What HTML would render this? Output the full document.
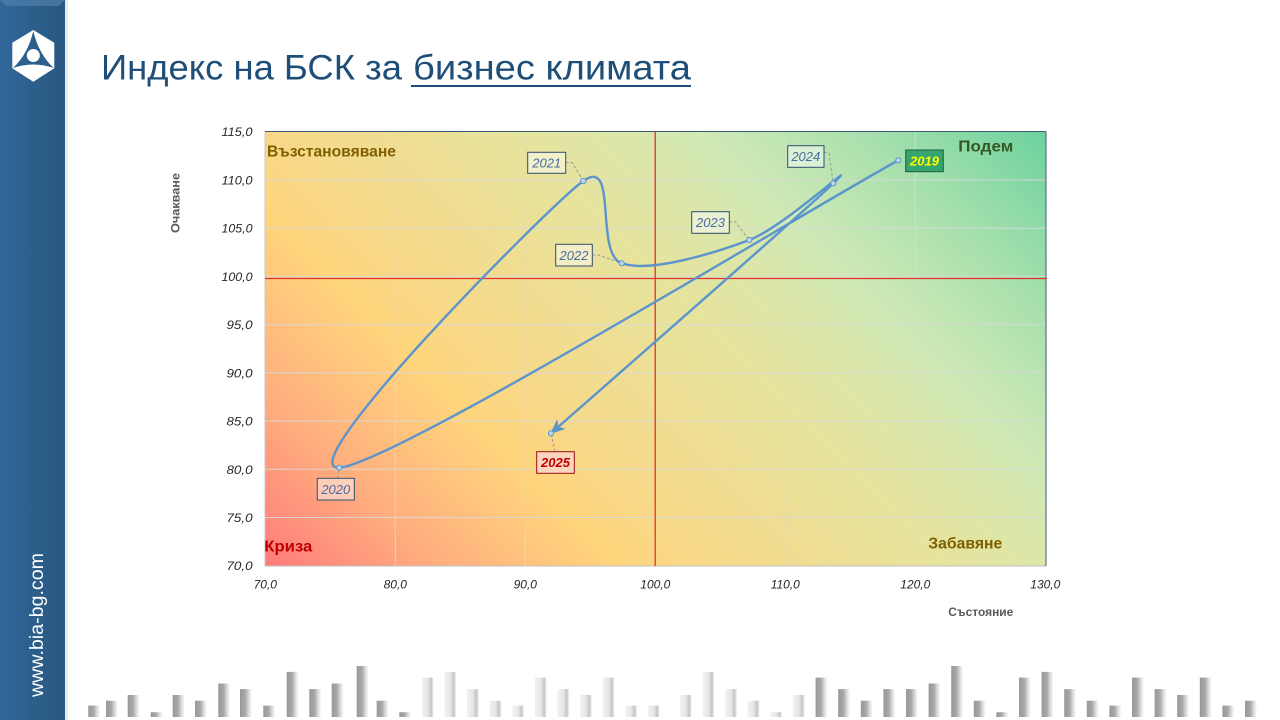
<!DOCTYPE html>
<html><head><meta charset="utf-8"><style>
html,body{margin:0;padding:0;background:#fff;width:1280px;height:720px;overflow:hidden}
svg{display:block}
</style></head><body>
<svg width="1280" height="720" viewBox="0 0 1280 720" font-family="'Liberation Sans','DejaVu Sans',sans-serif">
<defs>
<linearGradient id="bg" gradientUnits="userSpaceOnUse" x1="265" y1="566" x2="873" y2="-42">
<stop offset="0" stop-color="#ff7b7b"/>
<stop offset="0.14" stop-color="#ffad7e"/>
<stop offset="0.29" stop-color="#ffd57c"/>
<stop offset="0.37" stop-color="#f7d98a"/>
<stop offset="0.55" stop-color="#e7e39c"/>
<stop offset="0.64" stop-color="#dde6a8"/>
<stop offset="0.72" stop-color="#cfe9b6"/>
<stop offset="0.85" stop-color="#a7e0ad"/>
<stop offset="1" stop-color="#6cd29e"/>
</linearGradient>
<linearGradient id="side" x1="0" y1="0" x2="1" y2="0">
<stop offset="0" stop-color="#31679a"/>
<stop offset="0.5" stop-color="#2c5f8b"/>
<stop offset="1" stop-color="#295883"/>
</linearGradient>
<linearGradient id="gb" x1="0" y1="0" x2="1" y2="0">
<stop offset="0" stop-color="#989898"/>
<stop offset="0.45" stop-color="#a9a9a9"/>
<stop offset="0.7" stop-color="#d6d6d6"/>
<stop offset="1" stop-color="#ffffff"/>
</linearGradient>
<linearGradient id="wb" x1="0" y1="0" x2="1" y2="0">
<stop offset="0" stop-color="#f2f2f2"/>
<stop offset="0.5" stop-color="#e6e6e6"/>
<stop offset="0.78" stop-color="#c4c4c4"/>
<stop offset="1" stop-color="#ffffff"/>
</linearGradient>
</defs>

<!-- sidebar -->
<rect x="0" y="0" width="65" height="720" fill="url(#side)"/>
<polygon points="0,0 65,0 59,6 6,6" fill="#5a88b2" opacity="0.55"/>
<rect x="65" y="0" width="3" height="720" fill="#d8dde3" opacity="0.6"/>
<!-- logo -->
<polygon points="33.3,30 54.3,42.7 54.3,68.3 33.3,81.7 12.3,68.3 12.3,42.7" fill="#ffffff"/>
<path d="M33.3,31 Q28,54 13,68 Q33.3,61 53.7,68 Q38.6,54 33.3,31 Z" fill="#2c5f8b"/>
<circle cx="33.3" cy="55.5" r="6.5" fill="#ffffff"/>
<text transform="translate(43,625) rotate(-90)" text-anchor="middle" font-size="19" fill="#ffffff" textLength="144" lengthAdjust="spacingAndGlyphs">www.bia-bg.com</text>

<!-- title -->
<text x="101" y="79.5" font-size="35" fill="#1f4e79" textLength="301" lengthAdjust="spacingAndGlyphs">Индекс на БСК за</text>
<text x="413" y="79.5" font-size="35" fill="#1f4e79" textLength="278" lengthAdjust="spacingAndGlyphs">бизнес климата</text>
<line x1="411" y1="86" x2="691" y2="86" stroke="#1f4e79" stroke-width="2"/>

<!-- plot area -->
<rect x="265" y="131.5" width="781" height="434.5" fill="url(#bg)"/>
<g stroke="#d9d9d9" stroke-width="1" opacity="0.9">
<line x1="395.3" y1="131.5" x2="395.3" y2="566"/>
<line x1="525.3" y1="131.5" x2="525.3" y2="566"/>
<line x1="785.3" y1="131.5" x2="785.3" y2="566"/>
<line x1="915.3" y1="131.5" x2="915.3" y2="566"/>
<line x1="265" y1="180" x2="1046" y2="180"/>
<line x1="265" y1="228.2" x2="1046" y2="228.2"/>
<line x1="265" y1="276.4" x2="1046" y2="276.4"/>
<line x1="265" y1="324.6" x2="1046" y2="324.6"/>
<line x1="265" y1="372.8" x2="1046" y2="372.8"/>
<line x1="265" y1="421" x2="1046" y2="421"/>
<line x1="265" y1="469.3" x2="1046" y2="469.3"/>
<line x1="265" y1="517.5" x2="1046" y2="517.5"/>
</g>
<line x1="265" y1="131.5" x2="265" y2="566" stroke="#c8c8c8" stroke-width="1"/>
<line x1="265" y1="566" x2="1046" y2="566" stroke="#bfbfbf" stroke-width="1"/>
<line x1="265" y1="131.5" x2="1046" y2="131.5" stroke="#3e5c7a" stroke-width="1"/>
<line x1="1046" y1="131.5" x2="1046" y2="566" stroke="#3e5c7a" stroke-width="1"/>

<!-- red lines -->
<line x1="655.2" y1="131.5" x2="655.2" y2="566" stroke="#e2302a" stroke-width="1.3"/>
<line x1="265" y1="278.5" x2="1047" y2="278.5" stroke="#e2302a" stroke-width="1.3"/>

<!-- quadrant labels -->
<text x="267" y="156.5" font-size="15.5" font-weight="bold" fill="#7f6000" textLength="129" lengthAdjust="spacingAndGlyphs">Възстановяване</text>
<text x="958.3" y="151.7" font-size="15.5" font-weight="bold" fill="#385723" textLength="55" lengthAdjust="spacingAndGlyphs">Подем</text>
<text x="264.3" y="551.7" font-size="15.5" font-weight="bold" fill="#c00000" textLength="48" lengthAdjust="spacingAndGlyphs">Криза</text>
<text x="928.3" y="548.3" font-size="15.5" font-weight="bold" fill="#7f6000" textLength="74" lengthAdjust="spacingAndGlyphs">Забавяне</text>

<!-- y tick labels -->
<g font-size="12" font-style="italic" fill="#262626" text-anchor="end">
<text x="252.5" y="136.2" textLength="31" lengthAdjust="spacingAndGlyphs">115,0</text>
<text x="252.5" y="184.5" textLength="31" lengthAdjust="spacingAndGlyphs">110,0</text>
<text x="252.5" y="232.7" textLength="31" lengthAdjust="spacingAndGlyphs">105,0</text>
<text x="252.5" y="280.9" textLength="31" lengthAdjust="spacingAndGlyphs">100,0</text>
<text x="252.5" y="329.1" textLength="26" lengthAdjust="spacingAndGlyphs">95,0</text>
<text x="252.5" y="377.3" textLength="26" lengthAdjust="spacingAndGlyphs">90,0</text>
<text x="252.5" y="425.5" textLength="26" lengthAdjust="spacingAndGlyphs">85,0</text>
<text x="252.5" y="473.8" textLength="26" lengthAdjust="spacingAndGlyphs">80,0</text>
<text x="252.5" y="522" textLength="26" lengthAdjust="spacingAndGlyphs">75,0</text>
<text x="252.5" y="570.2" textLength="26" lengthAdjust="spacingAndGlyphs">70,0</text>
</g>
<!-- x tick labels -->
<g font-size="12" font-style="italic" fill="#262626" text-anchor="middle">
<text x="265.3" y="588.3">70,0</text>
<text x="395.3" y="588.3">80,0</text>
<text x="525.3" y="588.3">90,0</text>
<text x="655.3" y="588.3">100,0</text>
<text x="785.3" y="588.3">110,0</text>
<text x="915.3" y="588.3">120,0</text>
<text x="1045.3" y="588.3">130,0</text>
</g>
<!-- axis titles -->
<text transform="translate(179.5,203) rotate(-90)" text-anchor="middle" font-size="12" font-weight="bold" fill="#595959" textLength="60" lengthAdjust="spacingAndGlyphs">Очакване</text>
<text x="948.3" y="616" font-size="12" font-weight="bold" fill="#595959" textLength="65" lengthAdjust="spacingAndGlyphs">Състояние</text>

<!-- leader lines -->
<g fill="none" stroke="#9a9a9a" stroke-width="1" stroke-dasharray="3,2">
<polyline points="565.7,162.5 572,162.5 583.3,181"/>
<polyline points="592.3,255 598.5,255 621.7,263.3"/>
<polyline points="729.3,222 735,221.5 749.3,240"/>
<polyline points="824,152 829,153 833.3,183.3"/>
<polyline points="337.5,478.3 339.3,467.7"/>
<polyline points="555,451.7 551,433.3"/>
</g>

<!-- curve -->
<path d="M898.3,160.3 C805.1,211.5 391.8,464.25 339.3,467.7 C286.8,471.15 548,206.55 583.3,181 C618.6,155.45 594,253.5 621.7,263.3 C649.4,273.1 714,253.3 749.3,240 C784.6,226.7 866.4,151.1 833.3,183.3 C800.3,215.5 598.05,391.6 553,431.6" fill="none" stroke="#5b95cc" stroke-width="2.4" stroke-linejoin="round" stroke-linecap="round"/>
<polygon points="551,433.3 557.1,420.6 557.9,427.3 564.4,428.8" fill="#5b95cc" stroke="#5b95cc" stroke-width="1" stroke-linejoin="round"/>
<g fill="#bdd7ee" stroke="#5b95cc" stroke-width="1">
<circle cx="898.3" cy="160.3" r="2.6"/>
<circle cx="339.3" cy="467.7" r="2.6"/>
<circle cx="583.3" cy="181" r="2.6"/>
<circle cx="621.7" cy="263.3" r="2.6"/>
<circle cx="749.3" cy="240" r="2.6"/>
<circle cx="833.3" cy="183.3" r="2.6"/>
<circle cx="551" cy="433.3" r="2.6"/>
</g>

<!-- data label boxes -->
<g font-size="13" font-style="italic" text-anchor="middle">
<rect x="527.7" y="152.3" width="38" height="21" fill="#ffffff" fill-opacity="0.45" stroke="#2f4f6f"/>
<text x="546.7" y="167.6" fill="#4a6ca3">2021</text>
<rect x="555.7" y="244.3" width="36.6" height="21.7" fill="#ffffff" fill-opacity="0.45" stroke="#2f4f6f"/>
<text x="574" y="259.8" fill="#4a6ca3">2022</text>
<rect x="691.7" y="211.7" width="37.6" height="21.6" fill="#ffffff" fill-opacity="0.45" stroke="#2f4f6f"/>
<text x="710.5" y="227.2" fill="#4a6ca3">2023</text>
<rect x="787.7" y="145.7" width="36.3" height="21.6" fill="#ffffff" fill-opacity="0.45" stroke="#2f4f6f"/>
<text x="805.8" y="161.2" fill="#4a6ca3">2024</text>
<rect x="317.3" y="478.3" width="37" height="21.7" fill="#ffffff" fill-opacity="0.45" stroke="#2f4f6f"/>
<text x="335.8" y="493.8" fill="#4a6ca3">2020</text>
<rect x="905.7" y="150" width="37.6" height="21.7" fill="#36a46e" stroke="#1f5f3f"/>
<text x="924.5" y="165.5" fill="#ffff00" font-weight="bold">2019</text>
<rect x="536.7" y="451.7" width="37.6" height="21.6" fill="#fcd5c0" stroke="#9a1010"/>
<text x="555.5" y="467.2" fill="#c00000" font-weight="bold">2025</text>
</g>

<!-- decorative bars -->
<g>
<rect x="88.3" y="705.6" width="12" height="11.4" fill="url(#gb)"/>
<rect x="106" y="700.7" width="12" height="16.3" fill="url(#gb)"/>
<rect x="127.7" y="695" width="12" height="22" fill="url(#gb)"/>
<rect x="150.7" y="712.2" width="12" height="4.8" fill="url(#gb)"/>
<rect x="172.7" y="695" width="12" height="22" fill="url(#gb)"/>
<rect x="195" y="700.7" width="12" height="16.3" fill="url(#gb)"/>
<rect x="218.3" y="683.5" width="12" height="33.5" fill="url(#gb)"/>
<rect x="240" y="689.1" width="12" height="27.9" fill="url(#gb)"/>
<rect x="263.3" y="705.6" width="12" height="11.4" fill="url(#gb)"/>
<rect x="286.7" y="671.9" width="12" height="45.1" fill="url(#gb)"/>
<rect x="309.3" y="689.1" width="12" height="27.9" fill="url(#gb)"/>
<rect x="331.7" y="683.5" width="12" height="33.5" fill="url(#gb)"/>
<rect x="356.7" y="666" width="12" height="51" fill="url(#gb)"/>
<rect x="376.7" y="700.7" width="12" height="16.3" fill="url(#gb)"/>
<rect x="399.3" y="712.2" width="12" height="4.8" fill="url(#gb)"/>
<rect x="421.9" y="677.6" width="12" height="39.4" fill="url(#wb)"/>
<rect x="444.5" y="671.9" width="12" height="45.1" fill="url(#wb)"/>
<rect x="467.1" y="689.1" width="12" height="27.9" fill="url(#wb)"/>
<rect x="489.7" y="700.7" width="12" height="16.3" fill="url(#wb)"/>
<rect x="512.3" y="705.6" width="12" height="11.4" fill="url(#wb)"/>
<rect x="534.9" y="677.6" width="12" height="39.4" fill="url(#wb)"/>
<rect x="557.5" y="689.1" width="12" height="27.9" fill="url(#wb)"/>
<rect x="580.1" y="695" width="12" height="22" fill="url(#wb)"/>
<rect x="602.7" y="677.6" width="12" height="39.4" fill="url(#wb)"/>
<rect x="625.3" y="705.6" width="12" height="11.4" fill="url(#wb)"/>
<rect x="647.9" y="705.6" width="12" height="11.4" fill="url(#wb)"/>
<rect x="680" y="695" width="12" height="22" fill="url(#wb)"/>
<rect x="702.6" y="671.9" width="12" height="45.1" fill="url(#wb)"/>
<rect x="725.2" y="689.1" width="12" height="27.9" fill="url(#wb)"/>
<rect x="747.8" y="700.7" width="12" height="16.3" fill="url(#wb)"/>
<rect x="770.4" y="712.2" width="12" height="4.8" fill="url(#wb)"/>
<rect x="793" y="695" width="12" height="22" fill="url(#wb)"/>
<rect x="815.6" y="677.6" width="12" height="39.4" fill="url(#gb)"/>
<rect x="838.2" y="689.1" width="12" height="27.9" fill="url(#gb)"/>
<rect x="860.8" y="700.7" width="12" height="16.3" fill="url(#gb)"/>
<rect x="883.4" y="689.1" width="12" height="27.9" fill="url(#gb)"/>
<rect x="906" y="689.1" width="12" height="27.9" fill="url(#gb)"/>
<rect x="928.6" y="683.5" width="12" height="33.5" fill="url(#gb)"/>
<rect x="951.2" y="666" width="12" height="51" fill="url(#gb)"/>
<rect x="973.8" y="700.7" width="12" height="16.3" fill="url(#gb)"/>
<rect x="996.4" y="712.2" width="12" height="4.8" fill="url(#gb)"/>
<rect x="1019" y="677.6" width="12" height="39.4" fill="url(#gb)"/>
<rect x="1041.6" y="671.9" width="12" height="45.1" fill="url(#gb)"/>
<rect x="1064.2" y="689.1" width="12" height="27.9" fill="url(#gb)"/>
<rect x="1086.8" y="700.7" width="12" height="16.3" fill="url(#gb)"/>
<rect x="1109.4" y="705.6" width="12" height="11.4" fill="url(#gb)"/>
<rect x="1132" y="677.6" width="12" height="39.4" fill="url(#gb)"/>
<rect x="1154.6" y="689.1" width="12" height="27.9" fill="url(#gb)"/>
<rect x="1177.2" y="695" width="12" height="22" fill="url(#gb)"/>
<rect x="1199.8" y="677.6" width="12" height="39.4" fill="url(#gb)"/>
<rect x="1222.4" y="705.6" width="12" height="11.4" fill="url(#gb)"/>
<rect x="1245" y="700.7" width="12" height="16.3" fill="url(#gb)"/>
</g>
</svg>
</body></html>
